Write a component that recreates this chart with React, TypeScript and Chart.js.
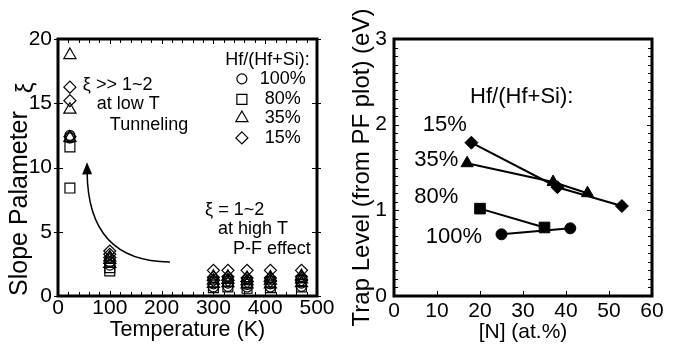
import React, { useEffect, useRef } from 'react';
import { Chart, registerables } from 'chart.js';

Chart.register(...registerables);

const FONT = '"Liberation Sans", Arial, Helvetica, sans-serif';

// ---------- Left panel: slope parameter vs temperature ----------
const temperatures = [23, 100, 300, 328, 365, 410, 470];
// Hf/(Hf+Si) = 100 % (circles)
const xiHf100a = [12.5, 2.65, 0.95, 1.0, 0.9, 0.95, 1.0];
const xiHf100b = [12.3, 2.4, 0.7, 0.75, 0.7, 0.7, 0.75];
// 80 % (squares)
const xiHf80a = [11.6, 2.2, 1.1, 1.15, 1.05, 1.1, 1.2];
const xiHf80b = [8.4, 1.95, 0.65, 0.7, 0.6, 0.65, 0.7];
// 35 % (triangles)
const xiHf35a = [18.75, 3.0, 1.5, 1.5, 1.4, 1.45, 1.55];
const xiHf35b = [14.5, 2.8, 1.2, 1.25, 1.15, 1.2, 1.3];
const xiHf35c = [12.3, 2.5, 0.95, 1.0, 0.9, 0.9, 1.0];
// 15 % (diamonds)
const xiHf15a = [16.25, 3.5, 2.0, 2.0, 2.0, 2.0, 2.0];
const xiHf15b = [15.2, 3.25, 1.45, 1.5, 1.4, 1.4, 1.5];
const xiHf15c = [12.4, 3.0, 1.2, 1.2, 1.1, 1.15, 1.2];

const leftXTicks = [0, 100, 200, 300, 400, 500];
const leftYTicks = [0, 5, 10, 15, 20];

// ---------- Right panel: trap level vs N content ----------
const n100 = [25, 41];
const trap100 = [0.72, 0.79];
const n80 = [20, 35];
const trap80 = [1.02, 0.8];
const n35 = [17, 37, 45];
const trap35 = [1.55, 1.33, 1.2];
const n15 = [18, 38, 53];
const trap15 = [1.79, 1.27, 1.05];

const rightXTicks = [0, 10, 20, 30, 40, 50, 60];
const rightYTicks = [0, 1, 2, 3];

const legendLabels = ['100%', '80%', '35%', '15%'];
const legendStyles = ['circle', 'rect', 'triangle', 'rectRot'];

const range = (a: number, b: number, s: number) => {
  const out: number[] = [];
  for (let v = a; v <= b + 1e-9; v += s) out.push(Math.round(v * 1000) / 1000);
  return out;
};

const pts = (xs: number[], ys: number[]) => xs.map((x, i) => ({ x, y: ys[i] }));

function drawSymbol(ctx: CanvasRenderingContext2D, style: string, x: number, y: number) {
  ctx.beginPath();
  if (style === 'circle') ctx.arc(x, y, 5, 0, Math.PI * 2);
  else if (style === 'rect') ctx.rect(x - 5, y - 5, 10, 10);
  else if (style === 'triangle') {
    const r = 7;
    ctx.moveTo(x, y - r);
    ctx.lineTo(x + r * 0.866, y + r * 0.5);
    ctx.lineTo(x - r * 0.866, y + r * 0.5);
    ctx.closePath();
  } else {
    const r = 6;
    ctx.moveTo(x, y - r);
    ctx.lineTo(x + r, y);
    ctx.lineTo(x, y + r);
    ctx.lineTo(x - r, y);
    ctx.closePath();
  }
  ctx.stroke();
}

const frameTicks = {
  id: 'frameTicks',
  afterDraw(chart: any, _args: any, o: any) {
    const { ctx, chartArea: a } = chart;
    const xs = chart.scales.x;
    const ys = chart.scales.y;
    ctx.save();
    ctx.strokeStyle = '#000';
    ctx.lineWidth = 1;
    ctx.beginPath();
    const vx = (vals: number[], len: number, out: number, top: boolean) => {
      for (const v of vals) {
        const px = Math.round(xs.getPixelForValue(v)) + 0.5;
        ctx.moveTo(px, a.bottom + out);
        ctx.lineTo(px, a.bottom - len);
        if (top) {
          ctx.moveTo(px, a.top - out);
          ctx.lineTo(px, a.top + len);
        }
      }
    };
    const vy = (vals: number[], len: number, out: number) => {
      for (const v of vals) {
        const py = Math.round(ys.getPixelForValue(v)) + 0.5;
        ctx.moveTo(a.left - out, py);
        ctx.lineTo(a.left + len, py);
        ctx.moveTo(a.right + out, py);
        ctx.lineTo(a.right - len, py);
      }
    };
    vx(o.xMinor || [], 4, 0, o.xTop);
    vx(o.xMajor || [], 5, o.xOut || 0, o.xTop);
    vy(o.yMinor || [], 4, 0);
    vy(o.yMajor || [], 5, o.yOut || 0);
    ctx.stroke();
    ctx.lineWidth = 3;
    ctx.strokeRect(a.left, a.top, a.right - a.left, a.bottom - a.top);
    ctx.restore();
  },
};

const notes = {
  id: 'notes',
  afterDraw(chart: any, _args: any, o: any) {
    const { ctx } = chart;
    const xs = chart.scales.x;
    const ys = chart.scales.y;
    ctx.save();
    ctx.fillStyle = '#000';
    ctx.strokeStyle = '#000';
    ctx.font = `${o.size}px ${FONT}`;
    ctx.textBaseline = 'middle';
    for (const t of o.texts || []) {
      ctx.textAlign = t.align || 'left';
      ctx.fillText(t.text, xs.getPixelForValue(t.x), ys.getPixelForValue(t.y));
    }
    if (o.legend) {
      const L = o.legend;
      ctx.lineWidth = 1.2;
      L.labels.forEach((lab: string, i: number) => {
        const py = ys.getPixelForValue(L.ys[i]);
        drawSymbol(ctx, L.styles[i], xs.getPixelForValue(L.symX), py);
        ctx.textAlign = 'center';
        ctx.fillText(lab, xs.getPixelForValue(L.textX), py);
      });
    }
    if (o.titleSymbol) {
      // raised symbol at the end of the rotated y-axis title
      const S = o.titleSymbol;
      ctx.save();
      ctx.font = `${S.size}px ${FONT}`;
      ctx.translate(S.px, S.py);
      ctx.rotate(-Math.PI / 2);
      ctx.textAlign = 'center';
      ctx.fillText(S.text, 0, 0);
      ctx.restore();
    }
    if (o.arrow) {
      const A = o.arrow;
      const sx = xs.getPixelForValue(A.from[0]);
      const sy = ys.getPixelForValue(A.from[1]);
      const cx = xs.getPixelForValue(A.ctrl[0]);
      const cy = ys.getPixelForValue(A.ctrl[1]);
      const ex = xs.getPixelForValue(A.to[0]);
      const ey = ys.getPixelForValue(A.to[1]);
      const ang = Math.atan2(ey - cy, ex - cx);
      const headLen = 12;
      const bx = ex - Math.cos(ang) * (headLen - 2);
      const by = ey - Math.sin(ang) * (headLen - 2);
      ctx.lineWidth = 1.5;
      ctx.beginPath();
      ctx.moveTo(sx, sy);
      ctx.quadraticCurveTo(cx, cy, bx, by);
      ctx.stroke();
      ctx.beginPath();
      ctx.moveTo(ex, ey);
      ctx.lineTo(ex - headLen * Math.cos(ang) + 5 * Math.sin(ang), ey - headLen * Math.sin(ang) - 5 * Math.cos(ang));
      ctx.lineTo(ex - headLen * Math.cos(ang) - 5 * Math.sin(ang), ey - headLen * Math.sin(ang) + 5 * Math.cos(ang));
      ctx.closePath();
      ctx.fill();
    }
    ctx.restore();
  },
};

const tickFont = { family: FONT, size: 21 };
const noGrid = { display: false, drawTicks: false };

function leftConfig(): any {
  const openDs = (data: number[], style: string, radius: number) => ({
    data: pts(temperatures, data),
    pointStyle: style,
    pointRadius: radius,
    pointBorderColor: '#000',
    pointBackgroundColor: 'rgba(0,0,0,0)',
    pointBorderWidth: 1.2,
    showLine: false,
  });
  return {
    type: 'scatter',
    data: {
      datasets: [
        openDs(xiHf100a, 'circle', 5),
        openDs(xiHf100b, 'circle', 5),
        openDs(xiHf80a, 'rect', 7),
        openDs(xiHf80b, 'rect', 7),
        openDs(xiHf35a, 'triangle', 7),
        openDs(xiHf35b, 'triangle', 7),
        openDs(xiHf35c, 'triangle', 7),
        openDs(xiHf15a, 'rectRot', 6),
        openDs(xiHf15b, 'rectRot', 6),
        openDs(xiHf15c, 'rectRot', 6),
      ],
    },
    options: {
      animation: false,
      responsive: false,
      devicePixelRatio: 1,
      layout: { padding: { left: 0, top: 39, right: 22, bottom: 0 } },
      plugins: {
        legend: { display: false },
        tooltip: { enabled: false },
        frameTicks: {
          xMinor: range(0, 500, 20),
          xMajor: leftXTicks,
          xTop: true,
          yMajor: leftYTicks,
          yOut: 4,
        },
        notes: {
          size: 18,
          texts: [
            { text: 'ξ >> 1~2', x: 48, y: 16.4 },
            { text: 'at low T', x: 75, y: 14.95 },
            { text: 'Tunneling', x: 100, y: 13.3 },
            { text: 'ξ = 1~2', x: 284, y: 6.7 },
            { text: 'at high T', x: 309, y: 5.2 },
            { text: 'P-F effect', x: 338, y: 3.66 },
            { text: 'Hf/(Hf+Si):', x: 486, y: 18.4, align: 'right' },
          ],
          legend: {
            labels: legendLabels,
            styles: legendStyles,
            ys: [16.9, 15.3, 13.85, 12.3],
            symX: 355,
            textX: 434,
          },
          titleSymbol: { text: 'ξ', px: 26, py: 88, size: 24 },
          arrow: { from: [216, 2.65], ctrl: [58, 2.65], to: [56, 10.4] },
        },
      },
      scales: {
        x: {
          type: 'linear',
          min: 0,
          max: 500,
          grid: noGrid,
          border: { display: false },
          afterBuildTicks: (s: any) => { s.ticks = leftXTicks.map((v) => ({ value: v })); },
          afterFit: (s: any) => { s.height = 51; },
          ticks: { color: '#000', font: tickFont, padding: 0, autoSkip: false, maxRotation: 0 },
          title: { display: true, text: 'Temperature (K)', color: '#000', font: { family: FONT, size: 21.5 }, padding: { top: 0, bottom: 4 } },
        },
        y: {
          type: 'linear',
          min: 0,
          max: 20,
          grid: noGrid,
          border: { display: false },
          afterBuildTicks: (s: any) => { s.ticks = leftYTicks.map((v) => ({ value: v })); },
          afterFit: (s: any) => { s.width = 58; },
          ticks: { color: '#000', font: tickFont, padding: 6, autoSkip: false },
          title: { display: true, text: 'Slope Palameter', align: 'start', color: '#000', font: { family: FONT, size: 25 }, padding: { top: 5, bottom: 0 } },
        },
      },
    },
    plugins: [frameTicks, notes],
  };
}

function rightConfig(): any {
  const lineDs = (xs: number[], ys: number[], style: string, radius: number) => ({
    data: pts(xs, ys),
    pointStyle: style,
    pointRadius: radius,
    pointBorderColor: '#000',
    pointBackgroundColor: '#000',
    pointBorderWidth: 1,
    borderColor: '#000',
    borderWidth: 2,
    showLine: true,
  });
  return {
    type: 'scatter',
    data: {
      datasets: [
        lineDs(n100, trap100, 'circle', 5.5),
        lineDs(n80, trap80, 'rect', 7.5),
        lineDs(n35, trap35, 'triangle', 7),
        lineDs(n15, trap15, 'rectRot', 6.5),
      ],
    },
    options: {
      animation: false,
      responsive: false,
      devicePixelRatio: 1,
      layout: { padding: { left: 0, top: 39, right: 26, bottom: 0 } },
      plugins: {
        legend: { display: false },
        tooltip: { enabled: false },
        frameTicks: {
          xMajor: rightXTicks,
          xTop: false,
          yMinor: range(0, 3, 0.1),
          yMajor: rightYTicks,
        },
        notes: {
          size: 22,
          texts: [
            { text: 'Hf/(Hf+Si):', x: 17.7, y: 2.32 },
            { text: '15%', x: 6.7, y: 2.0 },
            { text: '35%', x: 4.7, y: 1.59 },
            { text: '80%', x: 4.7, y: 1.16 },
            { text: '100%', x: 7.4, y: 0.69 },
          ],
        },
      },
      scales: {
        x: {
          type: 'linear',
          min: 0,
          max: 60,
          grid: noGrid,
          border: { display: false },
          afterBuildTicks: (s: any) => { s.ticks = rightXTicks.map((v) => ({ value: v })); },
          afterFit: (s: any) => { s.height = 51; },
          ticks: { color: '#000', font: tickFont, padding: 3, autoSkip: false, maxRotation: 0 },
          title: { display: true, text: '[N] (at.%)', color: '#000', font: { family: FONT, size: 21 }, padding: { top: 0, bottom: 2 } },
        },
        y: {
          type: 'linear',
          min: 0,
          max: 3,
          grid: noGrid,
          border: { display: false },
          afterBuildTicks: (s: any) => { s.ticks = rightYTicks.map((v) => ({ value: v })); },
          afterFit: (s: any) => { s.width = 55; },
          ticks: { color: '#000', font: tickFont, padding: 7, autoSkip: false },
          title: { display: true, text: 'Trap Level (from PF plot) (eV)', color: '#000', font: { family: FONT, size: 24 }, padding: { top: 9, bottom: 0 } },
        },
      },
    },
    plugins: [frameTicks, notes],
  };
}

function Panel({ left, make }: { left: number; make: () => any }) {
  const ref = useRef<HTMLCanvasElement | null>(null);
  useEffect(() => {
    if (!ref.current) return;
    const chart = new Chart(ref.current, make());
    return () => chart.destroy();
  }, [make]);
  return (
    <canvas
      ref={ref}
      width={339}
      height={347}
      style={{ position: 'absolute', left, top: 0, width: 339, height: 347 }}
    />
  );
}

export default function App() {
  return (
    <div style={{ position: 'absolute', left: 0, top: 0, width: 678, height: 347, background: '#fff', overflow: 'hidden' }}>
      <Panel left={0} make={leftConfig} />
      <Panel left={339} make={rightConfig} />
    </div>
  );
}
